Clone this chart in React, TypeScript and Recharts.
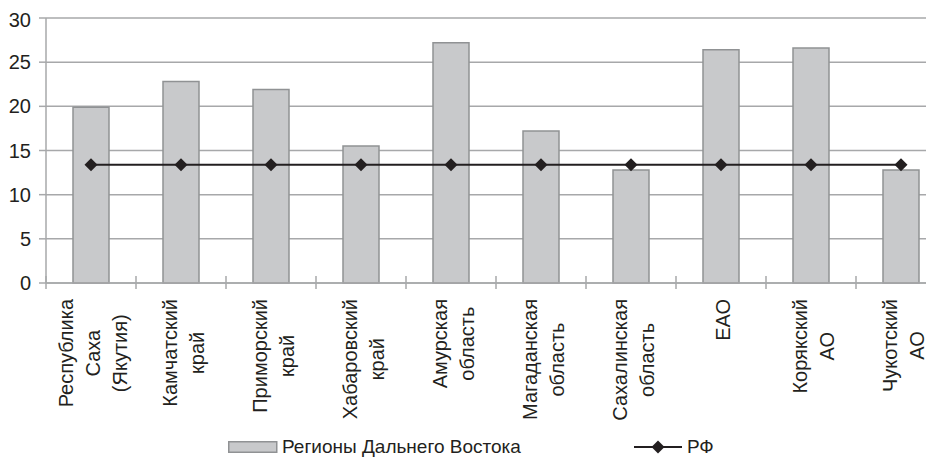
import React from "react";
import {
  ComposedChart,
  Bar,
  Line,
  XAxis,
  YAxis,
  CartesianGrid,
} from "recharts";

const regions = [
  "Республика\nСаха\n(Якутия)",
  "Камчатский\nкрай",
  "Приморский\nкрай",
  "Хабаровский\nкрай",
  "Амурская\nобласть",
  "Магаданская\nобласть",
  "Сахалинская\nобласть",
  "ЕАО",
  "Корякский\nАО",
  "Чукотский\nАО",
];
const farEastValues = [19.9, 22.8, 21.9, 15.5, 27.2, 17.2, 12.8, 26.4, 26.6, 12.8];
const rfValues = [13.4, 13.4, 13.4, 13.4, 13.4, 13.4, 13.4, 13.4, 13.4, 13.4];
const yTicks = [0, 5, 10, 15, 20, 25, 30];
const seriesNames = ["Регионы Дальнего Востока", "РФ"];

const FONT = "'Liberation Sans', Arial, sans-serif";
const FONT_SIZE = 19;
const TICK_FONT_SIZE = 20;
const TEXT = "#231f20";
const GRID = "#a7a8aa";
const BAR_FILL = "#c8c9cb";
const BAR_STROKE = "#909294";
const BAND = 90;

const data = regions.map((r, i) => ({
  region: r,
  farEast: farEastValues[i],
  rf: rfValues[i],
}));

let ctx: CanvasRenderingContext2D | null = null;
function measure(s: string) {
  if (!ctx) ctx = document.createElement("canvas").getContext("2d");
  if (!ctx) return s.length * TICK_FONT_SIZE * 0.55;
  ctx.font = `${TICK_FONT_SIZE}px ${FONT}`;
  return ctx.measureText(s).width;
}

function RegionTick(props: any) {
  const { x, y, payload, index } = props;
  const lines = String(payload.value).split("\n");
  const maxW = Math.max(...lines.map(measure));
  const axisY = y - 8;
  const top = axisY + 16;
  const step = 27;
  return (
    <g>
      <line x1={x - BAND / 2} x2={x - BAND / 2} y1={axisY - 7} y2={axisY + 6} stroke={GRID} strokeWidth={1.5} />
      {index === regions.length - 1 && (
        <line x1={x + BAND / 2} x2={x + BAND / 2} y1={axisY - 7} y2={axisY + 6} stroke={GRID} strokeWidth={1.5} />
      )}
      <g transform={`translate(${x + 2},${top + maxW / 2}) rotate(-90)`}>
        {lines.map((l, i) => (
          <text
            key={i}
            x={0}
            y={(i - (lines.length - 1) / 2) * step}
            textAnchor="middle"
            dominantBaseline="central"
            fontSize={TICK_FONT_SIZE}
            fontFamily={FONT}
            fill={TEXT}
          >
            {l}
          </text>
        ))}
      </g>
    </g>
  );
}

function Diamond(props: any) {
  const { cx, cy } = props;
  const r = 6.5;
  return (
    <path
      d={`M${cx},${cy - r}L${cx + r},${cy}L${cx},${cy + r}L${cx - r},${cy}Z`}
      fill={TEXT}
    />
  );
}

function ChartLegend() {
  return (
    <div
      style={{
        position: "absolute",
        top: 429,
        left: 0,
        display: "flex",
        alignItems: "center",
        paddingLeft: 220,
        fontFamily: FONT,
        fontSize: FONT_SIZE,
        color: TEXT,
        height: 20,
      }}
    >
      <svg width={50} height={12} style={{ marginRight: 4 }}>
        <rect x={0.75} y={0.75} width={48} height={10.5} fill={BAR_FILL} stroke={BAR_STROKE} strokeWidth={1.5} />
      </svg>
      <span>{seriesNames[0]}</span>
      <svg width={48} height={14} style={{ marginLeft: 113, marginRight: 5 }}>
        <line x1={0} x2={48} y1={7} y2={7} stroke={TEXT} strokeWidth={2} />
        <path d="M24,0.5L30.5,7L24,13.5L17.5,7Z" fill={TEXT} />
      </svg>
      <span>{seriesNames[1]}</span>
    </div>
  );
}

export default function App() {
  return (
    <div style={{ position: "relative", width: 926, height: 451, overflow: "hidden", fontFamily: FONT }}>
      <ComposedChart
        width={960}
        height={451}
        data={data}
        margin={{ top: 10, right: 22, bottom: 40, left: 0 }}
        barCategoryGap="30%"
      >
        <CartesianGrid horizontal vertical={false} stroke={GRID} strokeWidth={1.5} />
        <XAxis
          dataKey="region"
          interval={0}
          height={136}
          tickLine={false}
          axisLine={{ stroke: GRID, strokeWidth: 1.5 }}
          tick={<RegionTick />}
        />
        <YAxis
          domain={[0, 30]}
          ticks={yTicks}
          width={38}
          tickSize={7}
          tickMargin={8}
          axisLine={{ stroke: GRID, strokeWidth: 1.5 }}
          tickLine={{ stroke: GRID, strokeWidth: 1.5 }}
          tick={{ fill: TEXT, fontSize: TICK_FONT_SIZE, fontFamily: FONT }}
        />
        <Bar
          dataKey="farEast"
          name={seriesNames[0]}
          fill={BAR_FILL}
          stroke={BAR_STROKE}
          strokeWidth={1.5}
          isAnimationActive={false}
        />
        <Line
          dataKey="rf"
          name={seriesNames[1]}
          stroke={TEXT}
          strokeWidth={2}
          dot={<Diamond />}
          activeDot={false}
          isAnimationActive={false}
        />
      </ComposedChart>
      <ChartLegend />
    </div>
  );
}
